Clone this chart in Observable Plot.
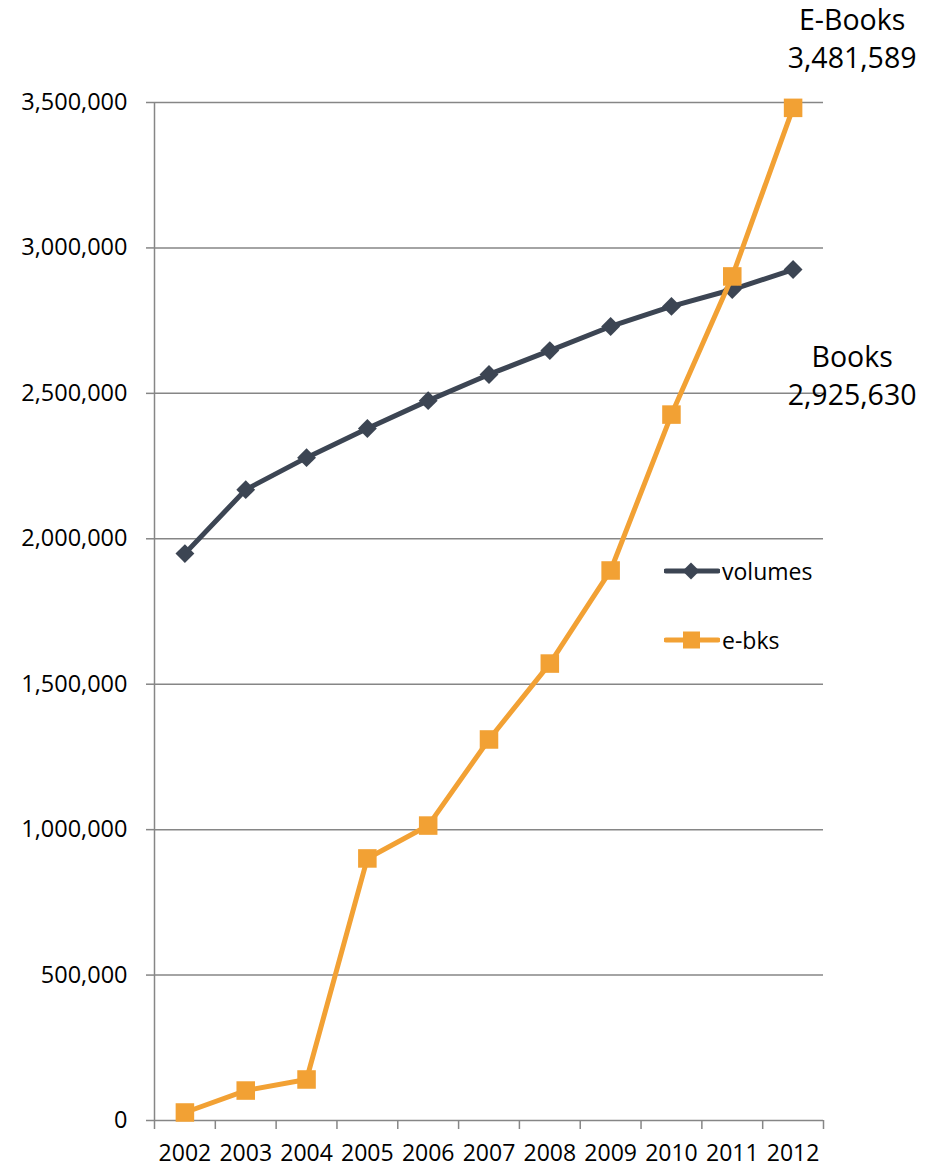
<!DOCTYPE html>
<html><head><meta charset="utf-8">
<script src="https://cdn.jsdelivr.net/npm/d3@7"></script>
<script src="https://cdn.jsdelivr.net/npm/@observablehq/plot@0.6"></script>
<style>
body{margin:0;background:#fff;}
#wrap{position:relative;width:937px;height:1168px;font-family:"Open Sans",sans-serif;}
.leg{position:absolute;left:664px;display:flex;align-items:center;font-size:23px;color:#000;}
.leg span{margin-left:2px;}
</style></head><body><div id="wrap"></div>
<script>
const years = [2002, 2003, 2004, 2005, 2006, 2007, 2008, 2009, 2010, 2011, 2012];
const volumes = [1949000, 2169000, 2279000, 2379000, 2475000, 2565000, 2647000, 2730000, 2799000, 2857000, 2925630];
const ebooks = [27500, 103000, 141000, 901000, 1014000, 1310000, 1571000, 1891000, 2427000, 2902000, 3481589];
const seriesNames = ["volumes", "e-bks"];
const seriesColors = ["#3c4553", "#f2a134"];
const yTicks = [0, 500000, 1000000, 1500000, 2000000, 2500000, 3000000, 3500000];
const endLabels = [{name: "E-Books", value: 3481589}, {name: "Books", value: 2925630}];

const volData = years.map((year, i) => ({year, value: volumes[i]}));
const ebkData = years.map((year, i) => ({year, value: ebooks[i]}));
const bounds = years.map(y => y - 0.5).concat([years[years.length - 1] + 0.5]);
const fmt = d3.format(",");
const grey = "#868686";

const chart = Plot.plot({
  width: 937, height: 1168,
  marginLeft: 154, marginRight: 114, marginTop: 102, marginBottom: 48,
  style: {fontFamily: "Open Sans", fontSize: "23.5px", color: "#000", background: "white", overflow: "visible"},
  x: {type: "linear", domain: [bounds[0], bounds[bounds.length - 1]]},
  y: {domain: [0, 3500000]},
  marks: [
    Plot.gridY(yTicks, {stroke: grey, strokeOpacity: 1, strokeWidth: 1.5}),
    Plot.axisY({ticks: yTicks, tickSize: 8, tickPadding: 19, tickFormat: fmt, stroke: grey, strokeWidth: 1.5, label: null, fill: "#000", fontSize: 23.5}),
    Plot.ruleX([bounds[0]], {stroke: grey, strokeWidth: 1.5}),
    Plot.axisX({ticks: bounds, tickSize: 9, tickFormat: () => "", stroke: grey, strokeWidth: 1.5, label: null}),
    Plot.axisX({ticks: years, tickSize: 0, tickPadding: 24, tickFormat: d => String(d), label: null, fill: "#000", fontSize: 23}),
    Plot.line(volData, {x: "year", y: "value", stroke: seriesColors[0], strokeWidth: 5, strokeLinejoin: "round"}),
    Plot.dot(volData, {x: "year", y: "value", symbol: "diamond2", r: 8.5, fill: seriesColors[0], stroke: "none"}),
    Plot.line(ebkData, {x: "year", y: "value", stroke: seriesColors[1], strokeWidth: 5, strokeLinejoin: "round"}),
    Plot.dot(ebkData, {x: "year", y: "value", symbol: "square2", r: 11.8, fill: seriesColors[1], stroke: "none"}),
    Plot.text([endLabels[0]], {x: () => years[years.length - 1], y: "value", text: d => d.name + "\n" + fmt(d.value), dx: 59, dy: -40, lineAnchor: "bottom", fontSize: 28.5, lineHeight: 1.32, fill: "#000"}),
    Plot.text([endLabels[1]], {x: () => years[years.length - 1], y: "value", text: d => d.name + "\n" + fmt(d.value), dx: 59, dy: 71, lineAnchor: "top", fontSize: 28.5, lineHeight: 1.32, fill: "#000"})
  ]
});
const wrap = document.getElementById("wrap");
wrap.appendChild(chart);

// legend
const legTops = [555, 624];
seriesNames.forEach((name, i) => {
  const div = document.createElement("div");
  div.className = "leg";
  div.style.top = legTops[i] + "px";
  const sym = i === 0
    ? `<rect x="21" y="9" width="12" height="12" transform="rotate(45 27 15)" fill="${seriesColors[i]}"/>`
    : `<rect x="19" y="6.5" width="17" height="17" fill="${seriesColors[i]}"/>`;
  div.innerHTML = `<svg width="56" height="30"><line x1="2" y1="15" x2="54" y2="15" stroke="${seriesColors[i]}" stroke-width="5" stroke-linecap="round"/>${sym}</svg><span>${name}</span>`;
  wrap.appendChild(div);
});
</script>
</body></html>
